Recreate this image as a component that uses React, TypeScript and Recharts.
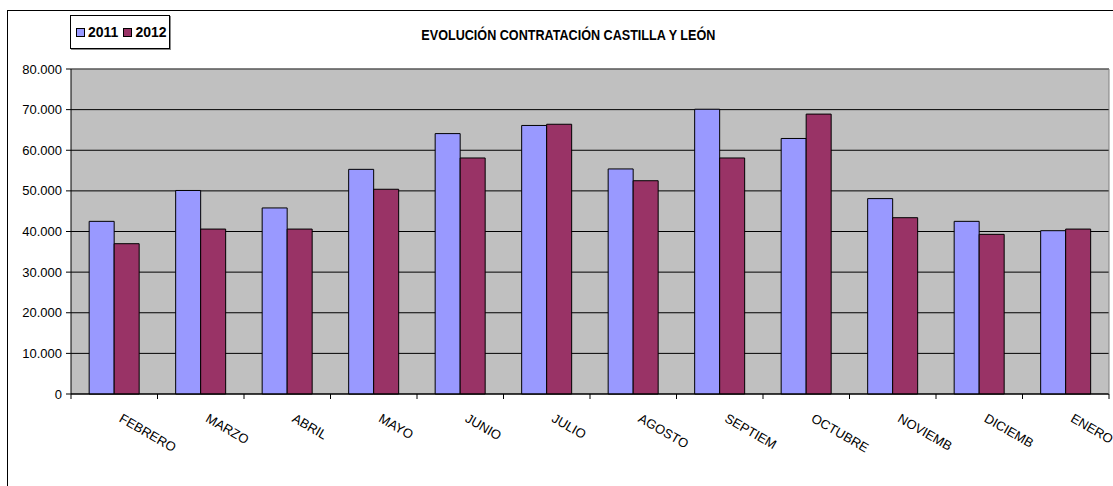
import React from 'react'
import {
  BarChart,
  Bar,
  XAxis,
  YAxis,
  CartesianGrid,
  ReferenceLine,
} from 'recharts'

const MONTHS = [
  'FEBRERO',
  'MARZO',
  'ABRIL',
  'MAYO',
  'JUNIO',
  'JULIO',
  'AGOSTO',
  'SEPTIEM',
  'OCTUBRE',
  'NOVIEMB',
  'DICIEMB',
  'ENERO',
]
const VALUES_2011 = [42500, 50100, 45800, 55300, 64100, 66100, 55400, 70100, 62900, 48100, 42500, 40200]
const VALUES_2012 = [37000, 40600, 40600, 50400, 58100, 66400, 52500, 58100, 68900, 43400, 39300, 40600]
const Y_TICKS = [0, 10000, 20000, 30000, 40000, 50000, 60000, 70000, 80000]

const SERIES = [
  { key: 'y2011', name: '2011', color: '#9999FF' },
  { key: 'y2012', name: '2012', color: '#993366' },
]

const data = MONTHS.map((m, i) => ({
  month: m,
  y2011: VALUES_2011[i],
  y2012: VALUES_2012[i],
}))

const W = 1113
const H = 486
const MARGIN = { top: 69, right: 4, left: 0, bottom: 91 }
const Y_W = 71
const PLOT_H = H - MARGIN.top - MARGIN.bottom - 1
const BAND = (W - Y_W - MARGIN.right - MARGIN.left) / MONTHS.length
const FONT = '"Liberation Sans", Arial, sans-serif'

const fmt = (v: number) => String(v).replace(/\B(?=(\d{3})+(?!\d))/g, '.')

const MonthTick = (props: any) => {
  const { x, y, payload, index } = props
  const half = BAND / 2
  const last = index === MONTHS.length - 1
  return (
    <g>
      <line x1={x - half} x2={x - half} y1={y} y2={y + 5} stroke='#000' />
      {last && (
        <>
          <line x1={x + half} x2={x + half} y1={y - PLOT_H} y2={y} stroke='#808080' />
          <line x1={x + half} x2={x + half} y1={y} y2={y + 5} stroke='#000' />
        </>
      )}
      <text
        transform={`translate(${x + 4},${y + 27}) rotate(30)`}
        fontSize={13}
        fontFamily={FONT}
        fill='#000'
      >
        {payload.value}
      </text>
    </g>
  )
}

export default function App() {
  return (
    <div style={{ position: 'relative', width: W, height: H, overflow: 'hidden', background: '#fff' }}>
      <style>{`body{margin:0;overflow:hidden}`}</style>
      <div
        style={{
          position: 'absolute',
          left: 7,
          top: 10,
          width: W + 20,
          height: H + 20,
          border: '1.5px solid #000',
        }}
      />
      <div
        style={{
          position: 'absolute',
          left: 70,
          top: 15,
          width: 100,
          height: 34,
          border: '1px solid #000',
          boxShadow: '1px 1px 0 #888',
          display: 'flex',
          alignItems: 'center',
          paddingLeft: 5,
          boxSizing: 'border-box',
          fontFamily: FONT,
          fontWeight: 'bold',
          fontSize: 14,
        }}
      >
        {SERIES.map((s) => (
          <span key={s.key} style={{ display: 'flex', alignItems: 'center', marginRight: 5 }}>
            <span
              style={{
                display: 'inline-block',
                width: 7,
                height: 7,
                background: s.color,
                border: '1px solid #000',
                marginRight: 3,
              }}
            />
            {s.name}
          </span>
        ))}
      </div>
      <div
        style={{
          position: 'absolute',
          left: 0,
          width: 1136,
          top: 27,
          textAlign: 'center',
          fontFamily: FONT,
          fontWeight: 'bold',
          fontSize: 14,
        }}
      >
        <span style={{ display: 'inline-block', transform: 'scaleX(0.9)' }}>
          EVOLUCIÓN CONTRATACIÓN CASTILLA Y LEÓN
        </span>
      </div>
      <div style={{ position: 'absolute', left: 0, top: 0 }}>
        <BarChart
          width={W}
          height={H}
          data={data}
          margin={MARGIN}
          barCategoryGap='21%'
          barGap={0}
        >
          <CartesianGrid vertical={false} stroke='#000' fill='#C0C0C0' fillOpacity={1} />
          <ReferenceLine y={80000} stroke='#808080' />
          <XAxis
            dataKey='month'
            interval={0}
            height={1}
            tickLine={false}
            tickSize={0}
            tickMargin={0}
            axisLine={{ stroke: '#000' }}
            tick={<MonthTick />}
          />
          <YAxis
            width={Y_W}
            domain={[0, 80000]}
            ticks={Y_TICKS}
            tickFormatter={fmt}
            axisLine={{ stroke: '#000' }}
            tickLine={{ stroke: '#000' }}
            tickSize={5}
            tickMargin={4}
            tick={{ fill: '#000', fontSize: 13, fontFamily: FONT }}
          />
          {SERIES.map((s) => (
            <Bar
              key={s.key}
              dataKey={s.key}
              name={s.name}
              fill={s.color}
              stroke='#000'
              strokeWidth={1}
              isAnimationActive={false}
            />
          ))}
        </BarChart>
      </div>
    </div>
  )
}
